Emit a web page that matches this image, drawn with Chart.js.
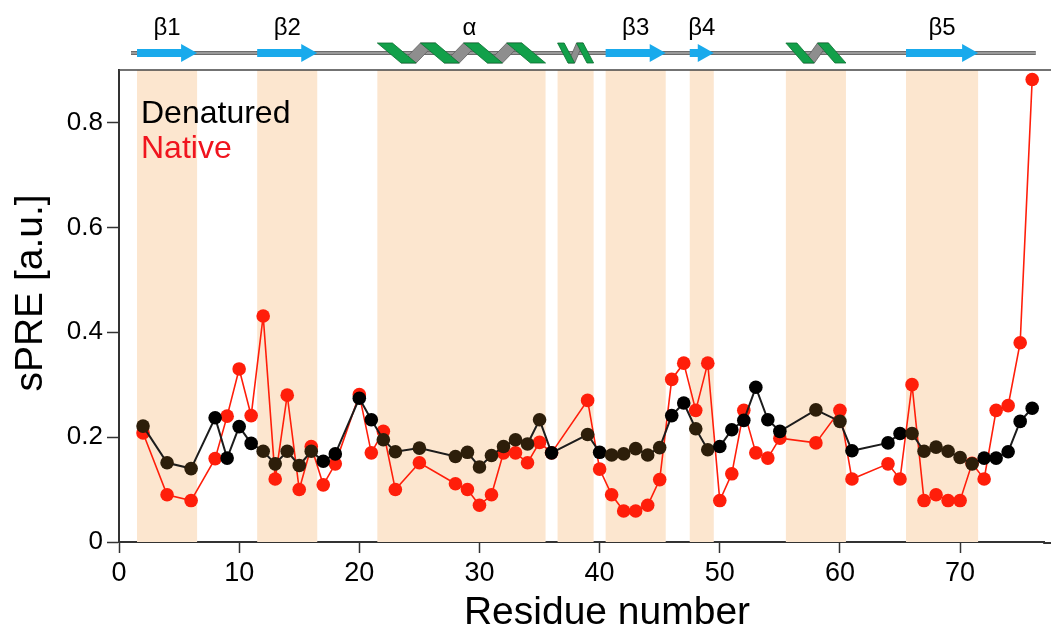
<!DOCTYPE html>
<html>
<head>
<meta charset="utf-8">
<script src="https://cdn.jsdelivr.net/npm/chart.js@4.4.0/dist/chart.umd.min.js"></script>
<style>
  html, body { margin: 0; padding: 0; background: #fff; }
  #wrap { width: 1051px; height: 630px; }
</style>
</head>
<body>
<div id="wrap"><canvas id="spreChart" width="1051" height="630"></canvas></div>
<script>
// residue numbers with a measured sPRE value
const residues = [2, 4, 6, 8, 9, 10, 11, 12, 13, 14, 15, 16, 17, 18,
  20, 21, 22, 23, 25, 28, 29, 30, 31, 32, 33, 34, 35, 36,
  39, 40, 41, 42, 43, 44, 45, 46, 47, 48, 49, 50, 51, 52, 53, 54, 55,
  58, 60, 61, 64, 65, 66, 67, 68, 69, 70, 71, 72, 73, 74, 75, 76];

const denatured = [0.221, 0.151, 0.140, 0.237, 0.160, 0.220, 0.188, 0.173, 0.149, 0.173, 0.146, 0.173, 0.154, 0.168,
  0.274, 0.233, 0.195, 0.172, 0.179, 0.163, 0.171, 0.143, 0.165, 0.182, 0.195, 0.187, 0.233, 0.170,
  0.205, 0.171, 0.166, 0.168, 0.178, 0.166, 0.180, 0.241, 0.265, 0.216, 0.176, 0.182, 0.214, 0.232, 0.295, 0.233, 0.211,
  0.252, 0.230, 0.174, 0.189, 0.207, 0.207, 0.173, 0.181, 0.173, 0.161, 0.149, 0.160, 0.160, 0.172, 0.230, 0.255];

const native = [0.208, 0.090, 0.079, 0.159, 0.240, 0.330, 0.241, 0.431, 0.120, 0.280, 0.100, 0.182, 0.109, 0.149,
  0.281, 0.170, 0.211, 0.100, 0.151, 0.111, 0.100, 0.070, 0.090, 0.170, 0.170, 0.151, 0.190, 0.170,
  0.270, 0.139, 0.090, 0.059, 0.059, 0.070, 0.119, 0.310, 0.341, 0.251, 0.341, 0.079, 0.130, 0.251, 0.170, 0.160, 0.198,
  0.189, 0.251, 0.120, 0.149, 0.120, 0.300, 0.079, 0.090, 0.079, 0.079, 0.150, 0.120, 0.251, 0.260, 0.380, 0.882];

const xTicks = [0, 10, 20, 30, 40, 50, 60, 70];
const yTicks = [0, 0.2, 0.4, 0.6, 0.8];

// secondary structure (residue bounds)
const strands = [
  { label: 'β1', from: 1.5, to: 6.5 },
  { label: 'β2', from: 11.5, to: 16.5 },
  { label: 'β3', from: 40.5, to: 45.5 },
  { label: 'β4', from: 47.5, to: 49.5 },
  { label: 'β5', from: 65.5, to: 71.5 }
];
const helices = [
  { label: 'α', from: 21.5, to: 35.5, turns: 4 },
  { label: '', from: 36.5, to: 39.5, turns: 2 },
  { label: '', from: 55.5, to: 60.5, turns: 2 }
];
const shaded = [[1.5, 6.5], [11.5, 16.5], [21.5, 35.5], [36.5, 39.5], [40.5, 45.5], [47.5, 49.5], [55.5, 60.5], [65.5, 71.5]];
const backbone = [1, 76.3];

const FONT = "'Liberation Sans', Arial, sans-serif";
const RED = '#ff1e0a';

function inShade(x) {
  return shaded.some(([a, b]) => x > a && x < b);
}

const shadePlugin = {
  id: 'shade',
  beforeDatasetsDraw(chart) {
    const { ctx, chartArea, scales: { x } } = chart;
    ctx.save();
    ctx.fillStyle = '#fce6cf';
    shaded.forEach(([a, b]) => {
      const x0 = x.getPixelForValue(a), x1 = x.getPixelForValue(b);
      ctx.fillRect(x0, chartArea.top, x1 - x0, chartArea.bottom - chartArea.top);
    });
    ctx.restore();
  }
};

function drawArrow(ctx, x0, x1, y) {
  const body = 4, head = 9, headLen = 16;
  ctx.fillStyle = '#19aaec';
  ctx.beginPath();
  ctx.moveTo(x0, y - body);
  ctx.lineTo(x1 - headLen, y - body);
  ctx.lineTo(x1 - headLen, y - head);
  ctx.lineTo(x1, y);
  ctx.lineTo(x1 - headLen, y + head);
  ctx.lineTo(x1 - headLen, y + body);
  ctx.lineTo(x0, y + body);
  ctx.closePath();
  ctx.fill();
}

function poly(ctx, pts, fill, stroke) {
  ctx.beginPath();
  ctx.moveTo(pts[0][0], pts[0][1]);
  for (let i = 1; i < pts.length; i++) ctx.lineTo(pts[i][0], pts[i][1]);
  ctx.closePath();
  ctx.fillStyle = fill;
  ctx.fill();
  if (stroke) { ctx.strokeStyle = stroke; ctx.lineWidth = 0.8; ctx.stroke(); }
}

function drawHelix(ctx, x0, x1, n, y) {
  const top = y - 10, bot = y + 10;
  const P = (x1 - x0) / (n - 0.1);
  const s = 0.55 * P, w = 0.35 * P;
  // grey back strands
  for (let i = 0; i < n - 1; i++) {
    const a = x0 + i * P;
    poly(ctx, [[a + s, bot], [a + s + w, bot], [a + P + w, top], [a + P, top]], '#8e8e8e', '#5e5e5e');
  }
  // green front strands
  for (let i = 0; i < n; i++) {
    const a = x0 + i * P;
    poly(ctx, [[a, top], [a + w, top], [a + s + w, bot], [a + s, bot]], '#12a04a', '#0b6e31');
  }
}

const topPlugin = {
  id: 'topTrack',
  afterDraw(chart) {
    const { ctx, chartArea, scales: { x } } = chart;
    const y = chartArea.top - 17;
    ctx.save();
    // frame top line, and bottom axis carried to the edge
    ctx.strokeStyle = '#444';
    ctx.lineWidth = 1.5;
    ctx.beginPath();
    ctx.moveTo(chartArea.left, chartArea.top);
    ctx.lineTo(chart.width, chartArea.top);
    ctx.stroke();
    ctx.strokeStyle = '#333';
    ctx.lineWidth = 2;
    ctx.beginPath();
    ctx.moveTo(chartArea.right - 1, chartArea.bottom + 1);
    ctx.lineTo(chart.width, chartArea.bottom + 1);
    ctx.stroke();

    // backbone
    const b0 = x.getPixelForValue(backbone[0]), b1 = x.getPixelForValue(backbone[1]);
    ctx.lineCap = 'butt';
    ctx.strokeStyle = '#6c6c6c';
    ctx.lineWidth = 4;
    ctx.beginPath(); ctx.moveTo(b0, y); ctx.lineTo(b1, y); ctx.stroke();
    ctx.strokeStyle = '#a9a9a9';
    ctx.lineWidth = 1.6;
    ctx.beginPath(); ctx.moveTo(b0, y); ctx.lineTo(b1, y); ctx.stroke();

    ctx.font = '24px ' + FONT;
    ctx.textAlign = 'center';
    ctx.textBaseline = 'middle';
    strands.forEach(st => {
      const x0 = x.getPixelForValue(st.from), x1 = x.getPixelForValue(st.to);
      drawArrow(ctx, x0, x1, y);
      ctx.fillStyle = '#000';
      ctx.fillText(st.label, (x0 + x1) / 2, y - 25);
    });
    helices.forEach(h => {
      const x0 = x.getPixelForValue(h.from), x1 = x.getPixelForValue(h.to);
      drawHelix(ctx, x0, x1, h.turns, y);
      if (h.label) {
        ctx.fillStyle = '#000';
        ctx.fillText(h.label, (x0 + x1) / 2 + 8, y - 25);
      }
    });

    // legend text
    ctx.textAlign = 'left';
    ctx.textBaseline = 'alphabetic';
    ctx.font = '32px ' + FONT;
    ctx.fillStyle = '#000';
    ctx.fillText('Denatured', chartArea.left + 22, 123);
    ctx.fillStyle = '#f0141e';
    ctx.fillText('Native', chartArea.left + 22, 158);

    // axis titles
    ctx.fillStyle = '#000';
    ctx.font = '39px ' + FONT;
    ctx.textAlign = 'center';
    ctx.fillText('Residue number', 607, 624);
    ctx.save();
    ctx.translate(42, 293);
    ctx.rotate(-Math.PI / 2);
    ctx.fillText('sPRE [a.u.]', 0, 0);
    ctx.restore();
    ctx.restore();
  }
};

new Chart(document.getElementById('spreChart').getContext('2d'), {
  type: 'line',
  data: {
    datasets: [{
      label: 'Denatured',
      data: residues.map((r, i) => ({ x: r, y: denatured[i] })),
      borderColor: '#1c1c1c',
      borderWidth: 2,
      pointRadius: 6.8,
      pointBorderWidth: 0,
      pointBackgroundColor: c => inShade(c.raw ? c.raw.x : 0) ? '#2d1e0a' : '#000',
      tension: 0,
      order: 0
    }, {
      label: 'Native',
      data: residues.map((r, i) => ({ x: r, y: native[i] })),
      borderColor: RED,
      borderWidth: 1.6,
      pointRadius: 6.8,
      pointBorderWidth: 0,
      pointBackgroundColor: RED,
      tension: 0,
      order: 1
    }]
  },
  options: {
    responsive: false,
    animation: false,
    devicePixelRatio: 1,
    layout: { padding: { top: 70, left: 0, right: 0, bottom: 0 } },
    plugins: { legend: { display: false }, tooltip: { enabled: false } },
    scales: {
      x: {
        type: 'linear',
        min: 0,
        max: 77,
        afterBuildTicks: s => { s.ticks = xTicks.map(v => ({ value: v })); },
        afterFit: s => { s.height = 88; },
        ticks: { font: { family: FONT, size: 27 }, color: '#000', padding: 4, maxRotation: 0 },
        grid: { drawOnChartArea: false, drawTicks: true, tickLength: 11, tickColor: '#333', tickWidth: 1.5 },
        border: { display: true, color: '#333', width: 2 }
      },
      y: {
        min: 0,
        max: 0.9,
        afterBuildTicks: s => { s.ticks = yTicks.map(v => ({ value: v })); },
        afterFit: s => { s.width = 119; },
        ticks: {
          font: { family: FONT, size: 26 }, color: '#000', padding: 4,
          callback: v => v === 0 ? '0' : v.toFixed(1)
        },
        grid: { drawOnChartArea: false, drawTicks: true, tickLength: 12, tickColor: '#333', tickWidth: 1.5 },
        border: { display: true, color: '#333', width: 2 }
      }
    }
  },
  plugins: [shadePlugin, topPlugin]
});
</script>
</body>
</html>
